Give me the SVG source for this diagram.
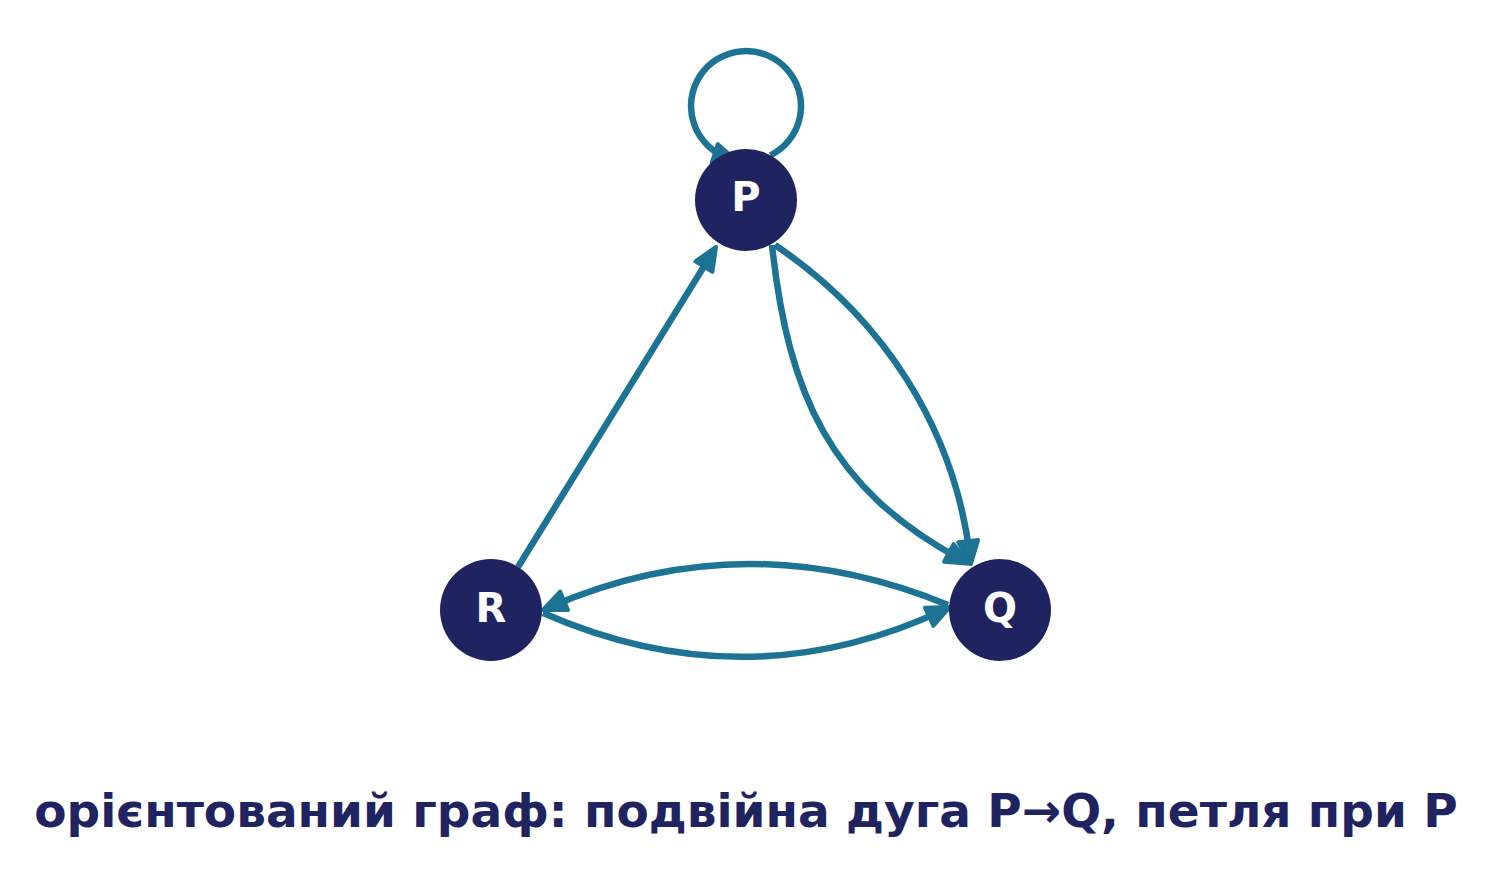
<svg xmlns="http://www.w3.org/2000/svg" width="1491" height="873" viewBox="0 0 1491 873">
<defs>
<style>
.edge{fill:none;stroke:#1c7394;stroke-width:6.5;stroke-linecap:butt}
.node circle{fill:#1f2461}
.node text{fill:#ffffff;font-family:"DejaVu Sans",sans-serif;font-weight:bold;font-size:40px;text-anchor:middle}
.title{fill:#1f2461;font-family:"DejaVu Sans",sans-serif;font-weight:bold;font-size:47px;text-anchor:middle}
</style>
<marker id="arr" markerUnits="userSpaceOnUse" viewBox="-22 -16 36 32" refX="0" refY="0" markerWidth="36" markerHeight="32" orient="auto">
<path d="M8,0 L-15,-10 L-15,10 Z" fill="#1c7394" stroke="#1c7394" stroke-width="4" stroke-linejoin="round"/>
</marker>
</defs>
<rect width="1491" height="873" fill="#ffffff"/>
<g id="edges">
<path class="edge" d="M770.4,155.3 A55,55 0 1 0 729,158.3" marker-end="url(#arr)"/>
<path class="edge" d="M518,567 L711.8,253.8" marker-end="url(#arr)"/>
<path class="edge" d="M775,245 C882,317 954,427 970,556" marker-end="url(#arr)"/>
<path class="edge" d="M772,245 C788,394 830,489 962,560" marker-end="url(#arr)"/>
<path class="edge" d="M948,605 Q746,522 550.3,606.8" marker-end="url(#arr)"/>
<path class="edge" d="M543,613 Q746,702 942.8,610.4" marker-end="url(#arr)"/>
</g>
<g id="node-P" class="node"><circle cx="746" cy="200" r="51"/><text x="746" y="211">P</text></g>
<g id="node-R" class="node"><circle cx="491" cy="610" r="51"/><text x="491" y="622">R</text></g>
<g id="node-Q" class="node"><circle cx="1000" cy="610" r="51"/><text x="1000" y="622">Q</text></g>
<text class="title" x="746" y="827">орієнтований граф: подвійна дуга P→Q, петля при P</text>
</svg>
